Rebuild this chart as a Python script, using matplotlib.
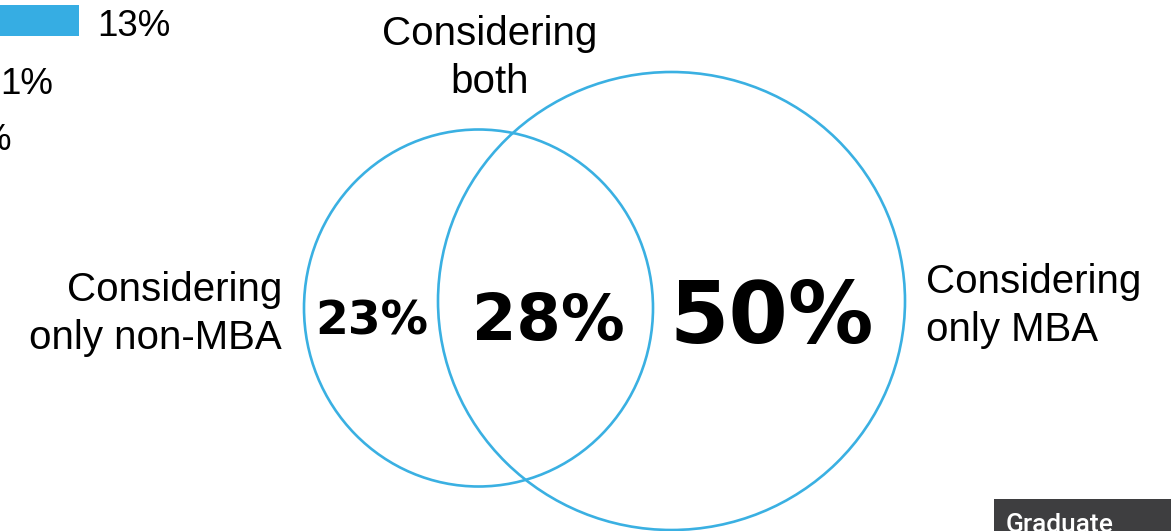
import matplotlib.pyplot as plt
from matplotlib.patches import Ellipse, Rectangle

# Venn segments (share of respondents, %)
segment_labels = ["Considering\nonly non-MBA", "Considering\nboth", "Considering\nonly MBA"]
segment_shares = [23, 28, 50]

# clipped remains of the neighbouring bar chart (top left corner)
fragment_labels = ["13%", "1%", "%"]
fragment_bar = 13

footer_text = "Graduate"

BLUE = "#3AB0E2"
W, H = 1171, 531

fig = plt.figure(figsize=(W / 100, H / 100), dpi=100)
ax = fig.add_axes([0, 0, 1, 1])
ax.set_xlim(0, W)
ax.set_ylim(H, 0)
ax.axis("off")

# circles: non-MBA (small) and MBA (large)
ax.add_patch(Ellipse((478.5, 308), 349, 357, fill=False, ec=BLUE, lw=1.9))
ax.add_patch(Ellipse((671.5, 301), 467, 458, fill=False, ec=BLUE, lw=1.9))

label_font = dict(family="Liberation Sans", fontsize=29, color="black", linespacing=1.32)
ax.text(282, 314, segment_labels[0], ha="right", va="center", multialignment="right", **label_font)
ax.text(490, 58, segment_labels[1], ha="center", va="center", multialignment="center", **label_font)
ax.text(926, 306, segment_labels[2], ha="left", va="center", multialignment="left", **label_font)

pct_x = [372, 548, 772]
pct_y = [322, 322, 320]
pct_size = [34, 46, 61.5]
for x, y, v, s in zip(pct_x, pct_y, segment_shares, pct_size):
    ax.text(x, y, f"{v}%", ha="center", va="center", fontsize=s,
            fontweight="bold", family="DejaVu Sans", color="black")

# fragment of the previous chart
ax.barh([20.5], [fragment_bar * 6.1], height=31, left=0, color="#36ADE3")
frag_font = dict(family="Liberation Sans", fontsize=26.5, color="black", va="center")
ax.text(97, 26, fragment_labels[0], ha="left", **frag_font)
ax.text(53, 84, fragment_labels[1], ha="right", **frag_font)
ax.text(11, 140, fragment_labels[2], ha="right", **frag_font)

# footer tag
ax.add_patch(Rectangle((994, 499), W - 994, H - 499, color="#3E3E40", lw=0))
ax.text(1006, 532, footer_text, ha="left", va="baseline", color="white",
        fontsize=19, family="Roboto", fontweight="medium")

fig.savefig("out.png", dpi=100)
